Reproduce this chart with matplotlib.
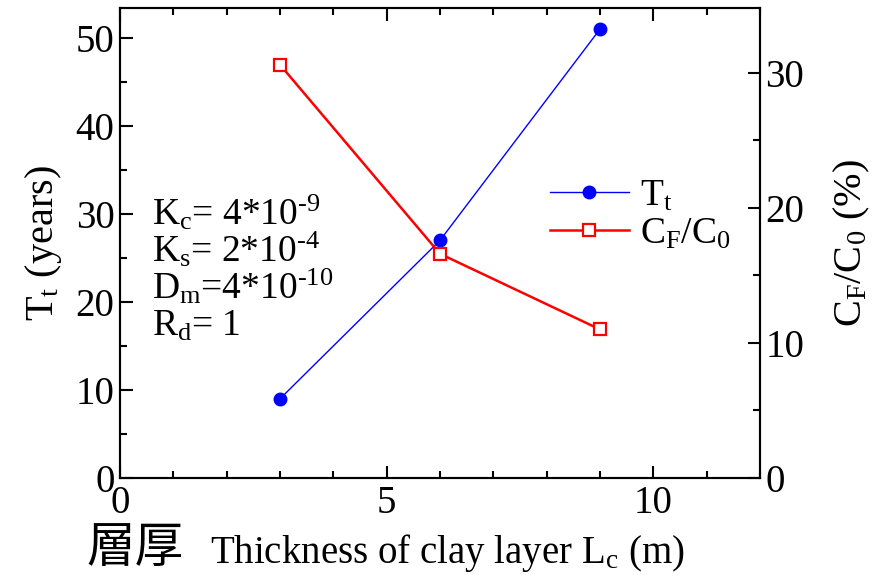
import matplotlib.pyplot as plt
from matplotlib.ticker import MultipleLocator

plt.rcParams['font.family'] = ['Liberation Serif', 'Noto Sans CJK JP']
plt.rcParams['mathtext.fontset'] = 'custom'
plt.rcParams['mathtext.rm'] = 'Liberation Serif'
plt.rcParams['mathtext.it'] = 'Liberation Serif'
plt.rcParams['mathtext.default'] = 'rm'

# clay layer thickness (m)
thickness = [3, 6, 9]
# breakthrough time (years)
Tt = [9, 27, 51]
# relative concentration (%)
CF_C0 = [30.6, 16.6, 11.0]

params = [r'K$_c$= 4*10$^{\text{-}9}$', r'K$_s$= 2*10$^{\text{-}4}$',
          r'D$_m$=4*10$^{\text{-}10}$', 'R$_d$= 1']

fig = plt.figure(figsize=(8.84, 5.75), dpi=100)
ax = fig.add_axes([120/884, 1-478/575, 640/884, 470/575])
ax2 = ax.twinx()

l1, = ax.plot(thickness, Tt, '-o', color='blue', lw=1.0, ms=9,
              label='T$_t$', clip_on=False, zorder=3)
l2, = ax2.plot(thickness, CF_C0, '-s', color='red', lw=1.8, ms=8.5,
               mfc='white', mec='red', mew=1.6, label='C$_F$/C$_0$', clip_on=False)

ax.set_xlim(0, 12)
ax.set_ylim(0, 53.4)
ax2.set_ylim(0, 34.8)

ax.xaxis.set_major_locator(MultipleLocator(5))
ax.xaxis.set_minor_locator(MultipleLocator(1))
ax.yaxis.set_major_locator(MultipleLocator(10))
ax.yaxis.set_minor_locator(MultipleLocator(5))
ax2.yaxis.set_major_locator(MultipleLocator(10))
ax2.yaxis.set_minor_locator(MultipleLocator(5))

ax.tick_params(axis='x', which='both', direction='in', top=True, labelsize=28, pad=5)
ax.tick_params(axis='y', which='both', direction='in', labelsize=28, pad=4)
ax2.tick_params(axis='y', which='both', direction='in', labelsize=28, pad=4)
for a in (ax, ax2):
    a.tick_params(which='major', length=9, width=1.5)
    a.tick_params(which='minor', length=5, width=1.5)
    for s in a.spines.values():
        s.set_linewidth(1.5)

ax.set_ylabel('T$_t$ (years)', fontsize=29, labelpad=8)
ax2.set_ylabel('C$_F$/C$_0$ (%)', fontsize=29, labelpad=20)

# x label: Japanese title plus English description
fig.text(86/884, 1-562/575, '層厚', fontsize=35, family='Noto Sans CJK JP', va='baseline')
fig.text(210/884, 1-563/575, 'Thickness of clay layer L$_c$ (m)', fontsize=28, va='baseline')

# model parameters
for i, p in enumerate(params):
    ax.text(32/640, (478-225-37*i)/470, p, fontsize=27, va='baseline',
            transform=ax.transAxes)

ax.legend([l1, l2], ['T$_t$', 'C$_F$/C$_0$'], loc='center left',
          bbox_to_anchor=(430/640, 263/470), frameon=False, fontsize=27,
          handlelength=2.1, handletextpad=0.3, borderpad=0, borderaxespad=0,
          labelspacing=0.1)

fig.savefig('out.png', dpi=100)
